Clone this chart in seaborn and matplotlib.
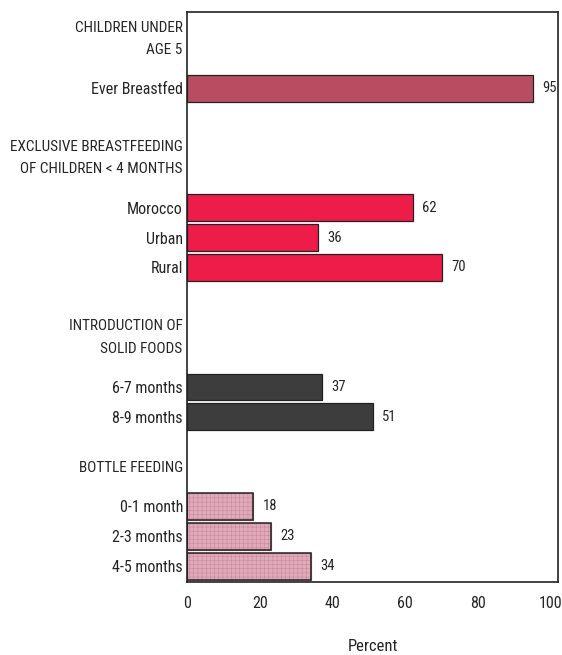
import matplotlib
matplotlib.use("Agg")
import matplotlib.pyplot as plt
import pandas as pd
import seaborn as sns

# section headers and the bars under each one
headers = [
    "CHILDREN UNDER\nAGE 5",
    "EXCLUSIVE BREASTFEEDING\nOF CHILDREN < 4 MONTHS",
    "INTRODUCTION OF\nSOLID FOODS",
    "BOTTLE FEEDING",
]
under5_labels = ["Ever Breastfed"]
under5_values = [95]
exclusive_labels = ["Morocco", "Urban", "Rural"]
exclusive_values = [62, 36, 70]
solid_labels = ["6-7 months", "8-9 months"]
solid_values = [37, 51]
bottle_labels = ["0-1 month", "2-3 months", "4-5 months"]
bottle_values = [18, 23, 34]
xticks = [0, 20, 40, 60, 80, 100]

colors = ["#b84d62", "#ee1c48", "#3d3d3d", "#e0aabb"]

sns.set_theme(style="white")
plt.rcParams["font.family"] = ["Roboto Condensed", "DejaVu Sans"]
plt.rcParams["hatch.linewidth"] = 0.4

groups = [
    (under5_labels, under5_values),
    (exclusive_labels, exclusive_values),
    (solid_labels, solid_values),
    (bottle_labels, bottle_values),
]

# row positions: each header takes (lines + 2) rows of space before its bars
rows = []
header_pos = []
pos = -3
for hdr, (labs, vals) in zip(headers, groups):
    pos += hdr.count("\n") + 3
    header_pos.append(pos)
    for lab, val in zip(labs, vals):
        rows.append({"label": lab, "value": val, "group": hdr, "pos": pos})
        pos += 1
    pos -= 1
df = pd.DataFrame(rows)

fig = plt.figure(figsize=(5.62, 6.55), dpi=100)
ax = fig.add_axes([0.333, 0.111, 0.66, 0.871])

sns.barplot(
    data=df, x="value", y="pos", hue="group", palette=colors,
    orient="y", native_scale=True, dodge=False, width=0.9,
    edgecolor="#222222", linewidth=0.9, saturation=1, legend=False, ax=ax,
)

# soft grid texture on the bottle feeding bars, dark outline drawn on top
for patch in ax.containers[-1]:
    patch.set_hatch("++++")
    patch.set_edgecolor("#c88a9c")
bottle = df[df["group"] == headers[-1]]
sns.barplot(
    data=bottle, x="value", y="pos", orient="y", native_scale=True,
    width=0.9, fill=False, color="#222222", linewidth=1.1, ax=ax,
)

for cont in ax.containers[:4]:
    ax.bar_label(cont, padding=7, fontsize=10.5)

ax.set_ylim(pos + 0.54, -1.56)
ax.set_xlim(0, 102)
ax.set_yticks(df["pos"])
ax.set_yticklabels(df["label"], fontsize=11.5)
ax.set_xticks(xticks)
ax.set_xticklabels([str(t) for t in xticks], fontsize=11.5)
ax.tick_params(axis="y", length=0, pad=3)
ax.tick_params(axis="x", length=0, pad=10)
ax.set_ylabel("")
ax.set_xlabel("Percent", fontsize=12, labelpad=20)

for sp in ax.spines.values():
    sp.set_visible(True)
    sp.set_color("#222222")
    sp.set_linewidth(1.2)

trans = ax.get_yaxis_transform()
for hdr, hp in zip(headers, header_pos):
    ax.text(-0.012, hp - 1.05, hdr, transform=trans, ha="right", va="bottom",
            fontsize=11, linespacing=1.75)

fig.savefig("out.png", dpi=100)
